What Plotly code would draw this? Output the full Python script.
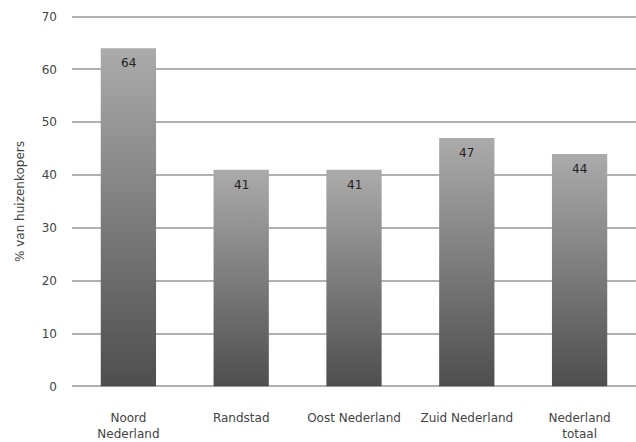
import plotly.graph_objects as go

categories = ["Noord<br>Nederland", "Randstad", "Oost Nederland", "Zuid Nederland", "Nederland<br>totaal"]
values = [64, 41, 41, 47, 44]
y_ticks = [0, 10, 20, 30, 40, 50, 60, 70]

bar_width = 0.49
positions = list(range(len(categories)))

fig = go.Figure()
for i, v in zip(positions, values):
    x0, x1 = i - bar_width / 2, i + bar_width / 2
    fig.add_trace(go.Scatter(
        x=[x0, x0, x1, x1, x0], y=[0, v, v, 0, 0],
        mode="lines", fill="toself", line=dict(width=0),
        fillgradient=dict(type="vertical", start=0, stop=v,
                          colorscale=[[0, "#4e4e4e"], [1, "#ababab"]]),
        hoverinfo="skip", showlegend=False,
    ))

for i, v in zip(positions, values):
    fig.add_annotation(x=i, y=v, text=str(v), showarrow=False, yanchor="middle",
                       yshift=-15, font=dict(family="DejaVu Sans", size=12, color="#222222"))

fig.update_layout(
    width=636, height=442,
    margin=dict(l=72, r=0, t=14, b=53),
    plot_bgcolor="white", paper_bgcolor="white",
    font=dict(family="DejaVu Sans", size=12, color="#444444"),
    xaxis=dict(range=[-0.5, len(categories) - 0.5], tickvals=positions, ticktext=categories,
               showgrid=False, zeroline=False, showline=False, ticks="",
               ticklabelstandoff=20, fixedrange=True),
    yaxis=dict(range=[-0.5, 70.5], tickvals=y_ticks, showgrid=True, gridcolor="#b0b0b0",
               gridwidth=1.5, zeroline=False, showline=False, ticks="",
               ticklabelstandoff=14,
               title=dict(text="% van huizenkopers", font=dict(size=12, color="#444444"), standoff=14),
               fixedrange=True),
)

fig.write_html("out.html")
